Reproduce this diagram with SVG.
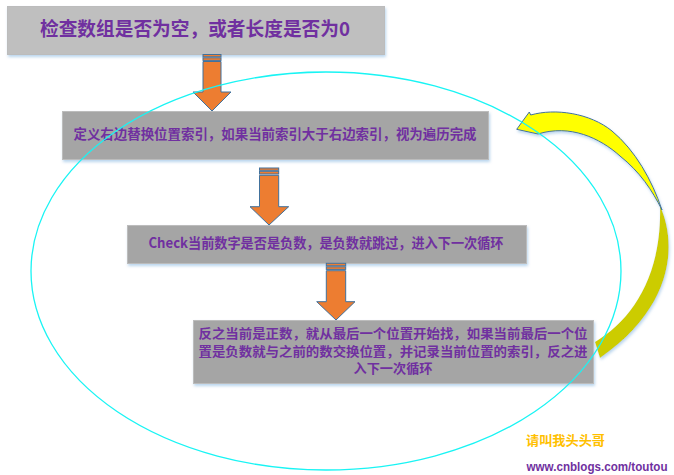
<svg xmlns="http://www.w3.org/2000/svg" width="674" height="475" viewBox="0 0 674 475">
<defs>
<style>
.box{stroke:#bcbcbc;stroke-width:1}
.b1{fill:#bfbfbf}
.b2{fill:#a5a5a5}
.t{font-family:"Noto Sans CJK SC","Liberation Sans",sans-serif;font-weight:bold;fill:#7030a0;text-anchor:middle}
.arr{fill:#ed7d31;stroke:#41719c;stroke-width:1}
.loop{fill:none;stroke:#19f4f4;stroke-width:1.3}
</style>
<filter id="sh" x="-5%" y="-20%" width="110%" height="150%">
<feDropShadow dx="1" dy="2" stdDeviation="1.5" flood-color="#9dc3e6" flood-opacity="0.7"/>
</filter>
</defs>
<rect width="674" height="475" fill="#ffffff"/>

<g id="node1">
<rect class="box b1" x="7.5" y="6.5" width="377" height="48" filter="url(#sh)"/>
<text class="t" x="195" y="36" font-size="19" textLength="310" lengthAdjust="spacingAndGlyphs">检查数组是否为空，或者长度是否为0</text>
</g>

<g id="node2">
<rect class="box b2" x="62.5" y="111.5" width="426" height="48" filter="url(#sh)"/>
<text class="t" x="275" y="139" font-size="13.5" textLength="403" lengthAdjust="spacingAndGlyphs">定义右边替换位置索引，如果当前索引大于右边索引，视为遍历完成</text>
</g>

<g id="node3">
<rect class="box b2" x="127.5" y="225.5" width="399" height="38" filter="url(#sh)"/>
<text class="t" x="326" y="248" font-size="14" textLength="355" lengthAdjust="spacingAndGlyphs">Check当前数字是否是负数，是负数就跳过，进入下一次循环</text>
</g>

<g id="node4">
<rect class="box b2" x="193.5" y="320.5" width="400" height="63" filter="url(#sh)"/>
<text class="t" x="393" y="338" font-size="13" textLength="389" lengthAdjust="spacingAndGlyphs">反之当前是正数，就从最后一个位置开始找，如果当前最后一个位</text>
<text class="t" x="393" y="355.5" font-size="13" textLength="389" lengthAdjust="spacingAndGlyphs">置是负数就与之前的数交换位置，并记录当前位置的索引，反之进</text>
<text class="t" x="393" y="373" font-size="13" textLength="79" lengthAdjust="spacingAndGlyphs">入下一次循环</text>
</g>

<g id="watermark">
<text x="565.5" y="444.5" font-family="'Noto Sans CJK SC','Liberation Sans',sans-serif" font-size="13" font-weight="bold" fill="#ffc000" text-anchor="middle" textLength="79" lengthAdjust="spacingAndGlyphs">请叫我头头哥</text>
<text x="597" y="470.5" font-family="'Liberation Sans',sans-serif" font-size="12" font-weight="bold" fill="#7030a0" text-anchor="middle" textLength="141" lengthAdjust="spacingAndGlyphs">www.cnblogs.com/toutou</text>
</g>

<g id="connectors">
<g id="arrow1">
<rect class="arr" x="203" y="54.5" width="18" height="2.3"/>
<rect class="arr" x="203" y="57.8" width="18" height="2.6"/>
<path class="arr" d="M203 61.5 H221 V92 H231 L212 111 L193 92 H203 Z"/>
</g>
<g id="arrow2">
<rect class="arr" x="259.5" y="168" width="19.2" height="2.3"/>
<rect class="arr" x="259.5" y="171.3" width="19.2" height="2.7"/>
<path class="arr" d="M259.5 175.3 H278.7 V206.7 H288.7 L269 225 L250 206.7 H259.5 Z"/>
</g>
<g id="arrow3">
<rect class="arr" x="326.3" y="263.3" width="19.4" height="2.5"/>
<rect class="arr" x="326.3" y="266.8" width="19.4" height="2.6"/>
<path class="arr" d="M326.3 270.7 H345.7 V301.7 H355 L336 320 L316.7 301.7 H326.3 Z"/>
</g>
<g id="loopback" filter="url(#sh)">
<path d="M660 206 C675 238, 679 303, 600 358 L595 342 C632 320, 662 276, 660 206 Z" fill="#cccc00"/>
<path d="M516.7 129.3 L529.3 112 L530.7 115 C555 108, 590 113, 612 131 C635 150, 652 180, 662 210 C652 190, 640 172, 620 156 C600 138, 570 124, 538 134 Z" fill="#ffff00" stroke="#41719c" stroke-width="1" stroke-linejoin="round"/>
</g>
<ellipse class="loop" cx="326" cy="271" rx="295" ry="199"/>
</g>
</svg>
